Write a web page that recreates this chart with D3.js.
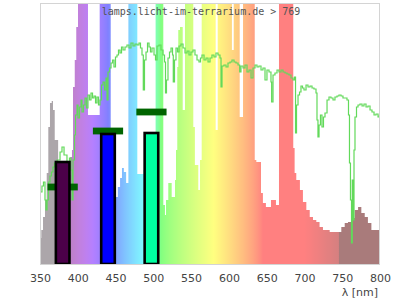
<!DOCTYPE html>
<meta charset="utf-8">
<script src="https://d3js.org/d3.v7.min.js"></script>
<style>
  body { margin: 0; background: #fff; }
</style>
<div id="chart"></div>
<script>
  // lamp spectrum, step values (start wavelength, relative intensity)
  var lampNm = [350, 351.7, 354, 356.6, 358.9, 361, 363.2, 365.5, 367.2, 369.5, 374, 379, 384, 390, 392.3, 393.7, 396, 398,
    400.3, 413.5, 429, 443.6, 449.7, 453, 456, 458.5, 461, 464, 467, 478.8, 487, 503, 513.2, 515.4, 516.8, 519.8, 524.3,
    528.7, 530, 531.7, 533, 535.3, 538.9, 541.9, 552.9, 555, 559.5, 561.8, 564, 582.5, 585.2, 604, 606.4, 614.3, 618.7,
    634.2, 636.3, 642.5, 645, 649, 655.7, 662.3, 666.3, 685.2, 687, 689.2, 694, 698, 702.5, 707, 711.3, 715.7, 720, 724.5,
    733.4, 744.4, 748.8, 753.3, 757.6, 762, 766.5, 771, 775.3, 779.8, 784, 788.6, 795.3, 800];
  var lampVal = [26, 34, 47, 64, 91, 137, 161, 163, 154, 124, 89, 74, 89, 107, 114, 177, 204, 237,
    300, 149, 300, 74, 67, 77, 86, 96, 92, 81, 300, 90, 94, 300, 59, 49, 64, 81, 67,
    84, 114, 197, 234, 237, 154, 300, 137, 99, 74, 104, 300, 134, 300, 214, 300, 147, 300,
    104, 102, 71, 61, 57, 64, 59, 300, 116, 91, 84, 74, 62, 54, 47, 44, 42, 37, 34,
    32, 32, 37, 41, 42, 46, 54, 57, 51, 47, 41, 34, 34, 34];

  // sunlight reference spectrum
  var sunNm = [351, 352.6, 354.6, 356.6, 357.9, 359.3, 361.2, 363.2, 365.2, 367.2, 369.2, 372.5, 376.5, 379.1, 381.8, 385.7,
    389, 391, 392.4, 393.7, 395.7, 397, 399, 400.3, 402.3, 404.3, 405.6, 407.6, 409.6, 411.5, 413.5, 415.5, 417.5, 419.5,
    421.5, 423.5, 425.4, 427.4, 429.4, 431.4, 433.4, 435.4, 437.4, 438.7, 440, 442, 444, 446, 447.9, 449.9, 451.9, 453.9,
    455.9, 457.9, 459.9, 462.5, 465.1, 467.8, 470.4, 473.1, 475.7, 478.4, 481, 483, 485, 486.7, 488.3, 490.3, 492.3, 494.3,
    496.2, 498.2, 500.9, 502.9, 504.9, 507.5, 510.1, 512.8, 514.8, 516.1, 517.4, 519.4, 521.4, 523.4, 525.4, 526.4, 528,
    530, 532, 534, 536.6, 539.3, 541.9, 544.6, 547.2, 549.8, 552.5, 555.1, 557.8, 560.4, 562.4, 564.4, 567.1, 569.7, 572.4,
    575, 577.6, 580.3, 582.9, 585.6, 588.2, 589.6, 590.9, 593.5, 596.2, 598.8, 601.5, 604.1, 606.8, 609.4, 612.1, 614.3,
    616, 618.7, 621.3, 624, 626.6, 629.3, 631.9, 634.6, 637.2, 639.8, 642.5, 645.1, 647.8, 650.4, 653.1, 655.7, 656.6,
    658.4, 661, 663.7, 666.3, 669, 671.6, 674.3, 676.9, 679.6, 682.2, 684.8, 686.8, 688.2, 689.5, 691.5, 693.5, 695.4,
    697.4, 699.4, 702.1, 704.7, 707.4, 710, 712.6, 715.3, 716.6, 717.9, 719.3, 721.2, 723.2, 725.2, 727.2, 729.9, 732.5,
    735.1, 737.8, 740.4, 743.1, 745.7, 748.4, 751, 753.7, 756.3, 758.3, 759.6, 760.9, 762.3, 763.3, 764.3, 765.6, 766.9,
    768.9, 770.9, 773.5, 776.2, 778.8, 781.5, 784.1, 786.8, 789.4, 792.1, 794.7, 797.4, 799.3];
  var sunVal = [72, 78, 82, 64, 54, 64, 82, 88, 92, 97, 101, 104, 112, 117, 109, 102,
    106, 94, 64, 104, 129, 149, 159, 146, 157, 164, 152, 159, 166, 156, 169, 164, 171, 166,
    168, 161, 167, 159, 164, 179, 182, 174, 186, 164, 192, 196, 201, 204, 197, 207, 209, 214,
    211, 217, 214, 217, 219, 216, 221, 218, 220, 219, 221, 216, 209, 174, 204, 212, 221, 217,
    212, 216, 209, 204, 218, 219, 214, 209, 202, 171, 184, 206, 212, 216, 209, 182, 204,
    216, 212, 218, 220, 216, 211, 213, 209, 212, 214, 209, 204, 202, 206, 209, 204, 206, 202,
    206, 209, 207, 211, 209, 206, 177, 198, 199, 197, 201, 202, 204, 202, 201, 199, 192,
    198, 196, 199, 192, 194, 186, 196, 199, 197, 198, 194, 196, 184, 194, 192, 182, 162,
    189, 191, 194, 192, 194, 192, 191, 190, 189, 186, 184, 187, 131, 159, 169, 172, 178,
    176, 174, 179, 177, 178, 176, 175, 171, 144, 127, 139, 149, 137, 147, 151, 164, 167,
    166, 164, 167, 168, 169, 168, 166, 166, 164, 149, 101, 64, 21, 84, 44, 114, 147,
    157, 159, 160, 158, 160, 157, 158, 154, 152, 149, 150, 147, 149];

  // LED bands: centre wavelength, measured level, target level
  var bandNm = [380, 440, 497.5];
  var bandVal = [102, 130, 131];
  var targetVal = [77, 133, 152];
  var bandFill = ["#4b0049", "#0000ff", "#00ffa0"];

  var xTicks = [350, 400, 450, 500, 550, 600, 650, 700, 750, 800];

  var width = 400, height = 300;
  var plot = { left: 40, right: 380, top: 3, bottom: 264 };

  var svg = d3.select("#chart").append("svg")
    .attr("width", width)
    .attr("height", height);

  var x = d3.scaleLinear().domain([350, 800]).range([plot.left, plot.right]);
  var y = d3.scaleLinear().domain([0, 260]).range([plot.bottom, plot.top + 1]);

  // pastel wavelength colours
  function wlColor(l) {
    if (l < 380) return "#aca6aa";
    if (l >= 746) return "#a97b7b";
    var r, g, b;
    if (l < 440) { r = -(l - 440) / 60; g = 0; b = 1; }
    else if (l < 490) { r = 0; g = (l - 440) / 50; b = 1; }
    else if (l < 510) { r = 0; g = 1; b = -(l - 510) / 20; }
    else if (l < 580) { r = (l - 510) / 70; g = 1; b = 0; }
    else if (l < 645) { r = 1; g = -(l - 645) / 65; b = 0; }
    else { r = 1; g = 0; b = 0; }
    var f = l < 420 ? 0.3 + 0.7 * (l - 380) / 40 : (l > 700 ? 0.3 + 0.7 * (780 - l) / 80 : 1);
    var c = function(v) { return v === 0 ? 0 : Math.pow(v * f, 0.8); };
    var m = function(v) { return Math.round(255 * (0.5 + 0.5 * c(v))); };
    return d3.rgb(m(r), m(g), m(b)).toString();
  }

  var defs = svg.append("defs");
  defs.append("clipPath").attr("id", "plotclip")
    .append("rect")
    .attr("x", plot.left).attr("y", plot.top)
    .attr("width", plot.right - plot.left).attr("height", plot.bottom - plot.top);

  var grad = defs.append("linearGradient")
    .attr("id", "wl")
    .attr("gradientUnits", "userSpaceOnUse")
    .attr("x1", x(350)).attr("x2", x(800))
    .attr("y1", 0).attr("y2", 0);
  d3.range(350, 801, 1).forEach(function(l) {
    grad.append("stop")
      .attr("offset", (l - 350) / 450)
      .attr("stop-color", wlColor(l));
  });

  var g = svg.append("g").attr("clip-path", "url(#plotclip)");

  var lamp = lampNm.map(function(d, i) { return [d, lampVal[i]]; });
  var area = d3.area()
    .x(function(d) { return x(d[0]); })
    .y0(y(0))
    .y1(function(d) { return y(d[1]); })
    .curve(d3.curveStepAfter);
  g.append("path")
    .datum(lamp)
    .attr("fill", "url(#wl)")
    .attr("d", area);

  var sun = sunNm.map(function(d, i) { return [d, sunVal[i]]; });
  var line = d3.line()
    .x(function(d) { return x(d[0]); })
    .y(function(d) { return y(d[1]); })
    .curve(d3.curveStepAfter);
  g.append("path")
    .datum(sun)
    .attr("fill", "none")
    .attr("stroke", "#62d95a")
    .attr("stroke-width", 1.2)
    .attr("d", line);

  // target markers (behind the bars)
  g.selectAll(".target")
    .data(bandNm)
    .enter().append("rect")
    .attr("class", "target")
    .attr("x", function(d) { return x(d - 20); })
    .attr("width", function(d) { return x(d + 20) - x(d - 20); })
    .attr("y", function(d, i) { return y(targetVal[i]) - 3.4; })
    .attr("height", 6.8)
    .attr("fill", "#006400");

  g.selectAll(".band")
    .data(bandNm)
    .enter().append("rect")
    .attr("class", "band")
    .attr("x", function(d) { return x(d - 9); })
    .attr("width", function(d) { return x(d + 9) - x(d - 9); })
    .attr("y", function(d, i) { return y(bandVal[i]); })
    .attr("height", function(d, i) { return y(0) - y(bandVal[i]); })
    .attr("fill", function(d, i) { return bandFill[i]; })
    .attr("stroke", "#000")
    .attr("stroke-width", 2.6);

  // frame
  svg.append("rect")
    .attr("x", plot.left + 0.5).attr("y", plot.top + 0.5)
    .attr("width", plot.right - plot.left - 1).attr("height", plot.bottom - plot.top)
    .attr("fill", "none")
    .attr("stroke", "#d4d4d4");

  var xAxis = svg.append("g")
    .attr("transform", "translate(0," + plot.bottom + ")")
    .call(d3.axisBottom(x).tickValues(xTicks).tickSize(0).tickPadding(10));
  xAxis.select(".domain").remove();
  xAxis.selectAll("text")
    .style("font-family", "DejaVu Sans, sans-serif")
    .style("font-size", "11px")
    .attr("fill", "#444");

  svg.append("text")
    .attr("x", 378)
    .attr("y", 296)
    .attr("text-anchor", "end")
    .style("font-family", "DejaVu Sans, sans-serif")
    .style("font-size", "11px")
    .attr("fill", "#444")
    .text("λ [nm]");

  svg.append("text")
    .attr("x", 201)
    .attr("y", 15)
    .attr("text-anchor", "middle")
    .style("font-family", "DejaVu Sans Mono, monospace")
    .style("font-size", "10px")
    .attr("fill", "#555")
    .text("lamps.licht-im-terrarium.de > 769");
</script>
